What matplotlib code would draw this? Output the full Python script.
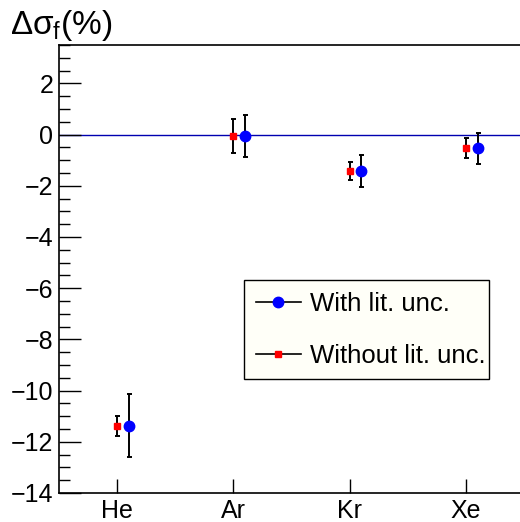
import matplotlib.pyplot as plt
from matplotlib.lines import Line2D
from matplotlib.ticker import MultipleLocator

plt.rcParams["font.family"] = ["Liberation Sans", "DejaVu Sans"]
plt.rcParams["mathtext.fontset"] = "custom"
plt.rcParams["mathtext.rm"] = "Liberation Sans"
plt.rcParams["mathtext.it"] = "Liberation Sans"
plt.rcParams["mathtext.bf"] = "Liberation Sans:bold"

# data
gases = ["He", "Ar", "Kr", "Xe"]
with_lit = [-11.38, -0.05, -1.42, -0.53]
with_lit_err = [1.23, 0.81, 0.64, 0.60]
without_lit = [-11.38, -0.07, -1.42, -0.53]
without_lit_err = [0.38, 0.66, 0.35, 0.40]

fig = plt.figure(figsize=(5.2, 5.22), dpi=100)
W, H = 520, 522
ax = fig.add_axes([59 / W, 1 - 493 / H, (524 - 59) / W, (493 - 45) / H])

x = list(range(len(gases)))
x_blue = [v + 0.1 for v in x]

ax.axhline(0, color="#0000b0", lw=1.0, zorder=1)

ax.errorbar(x, without_lit, yerr=without_lit_err, fmt="s", color="red", ms=4.5,
            mec="red", ecolor="black", elinewidth=1.4, capsize=1.8, capthick=1.4, zorder=3)
ax.errorbar(x_blue, with_lit, yerr=with_lit_err, fmt="o", color="blue", ms=7.5,
            mec="blue", ecolor="black", elinewidth=1.4, capsize=1.8, capthick=1.4, zorder=3)

ax.set_xlim(-0.5, 3.5)
ax.set_ylim(-14, 3.5)
ax.set_xticks(x)
ax.set_xticklabels(gases)
ax.yaxis.set_major_locator(MultipleLocator(2))
ax.yaxis.set_minor_locator(MultipleLocator(0.5))
ax.tick_params(axis="y", which="major", direction="in", length=16, width=1, labelsize=18, pad=4)
ax.tick_params(axis="y", which="minor", direction="in", length=8, width=1)
ax.tick_params(axis="x", which="major", direction="in", length=10, width=1, labelsize=18, pad=4)
ax.tick_params(axis="x", which="minor", bottom=False)
for side in ["left", "bottom", "top"]:
    ax.spines[side].set_linewidth(1.2)
ax.spines["right"].set_visible(False)

fig.text(10 / W, 1 - 34 / H, r"$\Delta\sigma_{f}$(%)", fontsize=24,
         ha="left", va="baseline")

handles = [
    Line2D([], [], color="black", lw=1.2, marker="o", ms=7.5, mfc="blue", mec="blue"),
    Line2D([], [], color="black", lw=1.2, marker="s", ms=4.5, mfc="red", mec="red"),
]
leg = ax.legend(handles, ["With lit. unc.", "Without lit. unc."],
                loc="upper left", bbox_to_anchor=(244 / W, 1 - 381 / H, (489 - 244) / W, (381 - 280) / H),
                bbox_transform=fig.transFigure, mode="expand",
                fontsize=18.5, frameon=True, fancybox=False, edgecolor="black",
                facecolor="#fffff8", framealpha=1, borderpad=0.45, handlelength=1.75,
                handletextpad=0.35, labelspacing=1.1, borderaxespad=0)
leg.get_frame().set_linewidth(1.0)

fig.savefig("out.png", dpi=100)
